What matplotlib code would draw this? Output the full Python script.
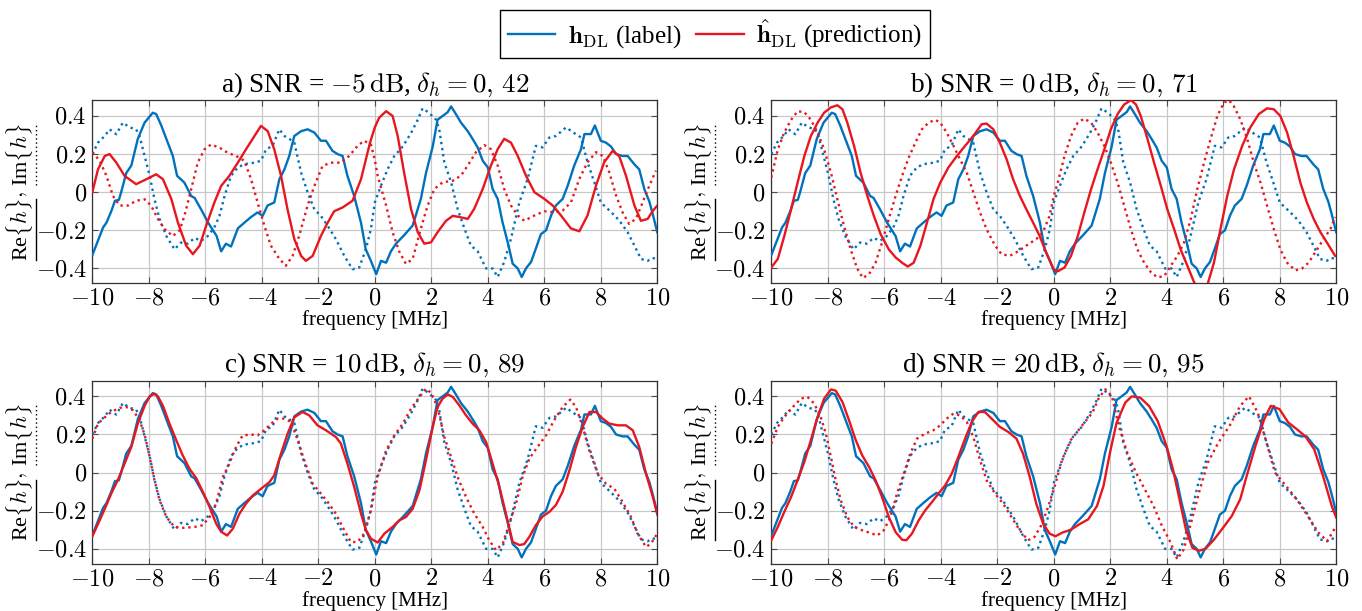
"""
Channel estimation example: label vs. DL prediction for four SNR values
Re{h} solid, Im{h} dotted
"""

import numpy as np
import matplotlib
matplotlib.use('Agg')
import matplotlib.pyplot as plt
from matplotlib.lines import Line2D

plt.rcParams['font.family'] = 'serif'
plt.rcParams['font.serif'] = ['Liberation Serif', 'DejaVu Serif']
plt.rcParams['mathtext.fontset'] = 'cm'
plt.rcParams['font.size'] = 15

BLUE = '#0072BD'
RED = '#E8161E'

# ---- data: (frequency [MHz], value) ----
label_re = [(-10, -0.33), (-9.62, -0.185), (-9.5, -0.16), (-9.33, -0.10), (-9.2, -0.045), (-9.06, -0.04),
            (-8.98, 0.0), (-8.8, 0.10), (-8.62, 0.14), (-8.39, 0.28), (-8.15, 0.365), (-7.86, 0.417),
            (-7.74, 0.41), (-7.56, 0.35), (-7.33, 0.26), (-7.15, 0.19), (-7.0, 0.086), (-6.74, 0.05),
            (-6.5, -0.02), (-6.38, -0.03), (-6.15, -0.09), (-5.9, -0.16), (-5.6, -0.23), (-5.44, -0.31),
            (-5.27, -0.27), (-5.09, -0.285), (-4.85, -0.19), (-4.62, -0.16), (-4.38, -0.13), (-4.15, -0.106),
            (-3.97, -0.124), (-3.8, -0.07), (-3.56, -0.054), (-3.38, 0.068), (-3.2, 0.12), (-3.03, 0.19),
            (-2.85, 0.295), (-2.61, 0.32), (-2.38, 0.33), (-2.14, 0.313), (-1.91, 0.27), (-1.73, 0.27),
            (-1.5, 0.217), (-1.32, 0.2), (-1.14, 0.19), (-0.97, 0.086), (-0.73, -0.02), (-0.49, -0.16),
            (-0.32, -0.30), (-0.14, -0.36), (0.05, -0.43), (0.22, -0.36), (0.4, -0.37), (0.57, -0.31),
            (0.75, -0.27), (1.04, -0.225), (1.34, -0.175), (1.63, -0.035), (1.81, 0.10), (2.05, 0.24),
            (2.22, 0.38), (2.4, 0.40), (2.58, 0.42), (2.7, 0.45), (2.87, 0.41), (3.05, 0.365), (3.29, 0.32),
            (3.46, 0.28), (3.64, 0.235), (3.82, 0.165), (4.0, 0.13), (4.17, 0.017), (4.35, -0.035),
            (4.52, -0.157), (4.7, -0.26), (4.88, -0.375), (5.06, -0.40), (5.2, -0.445), (5.35, -0.40),
            (5.53, -0.366), (5.7, -0.296), (5.88, -0.22), (6.06, -0.20), (6.24, -0.122), (6.41, -0.07),
            (6.65, -0.035), (6.83, 0.035), (7.06, 0.14), (7.3, 0.226), (7.42, 0.305), (7.65, 0.305),
            (7.79, 0.35), (8.0, 0.27), (8.18, 0.26), (8.36, 0.24), (8.54, 0.2), (8.77, 0.19), (8.95, 0.19),
            (9.19, 0.146), (9.36, 0.12), (9.54, 0.017), (9.72, -0.05), (9.83, -0.11), (10.0, -0.21)]

label_im = [(-10, 0.2), (-9.8, 0.26), (-9.56, 0.295), (-9.39, 0.33), (-9.15, 0.304), (-8.92, 0.365),
            (-8.68, 0.34), (-8.45, 0.33), (-8.33, 0.295), (-8.15, 0.19), (-7.97, 0.086), (-7.8, -0.037),
            (-7.62, -0.14), (-7.38, -0.23), (-7.09, -0.30), (-6.86, -0.264), (-6.62, -0.27), (-6.38, -0.24),
            (-6.15, -0.255), (-5.91, -0.23), (-5.68, -0.185), (-5.5, -0.124), (-5.32, -0.02), (-5.09, 0.086),
            (-4.85, 0.13), (-4.62, 0.147), (-4.26, 0.155), (-4.03, 0.165), (-3.85, 0.225), (-3.62, 0.243),
            (-3.38, 0.33), (-3.2, 0.295), (-3.03, 0.28), (-2.85, 0.26), (-2.61, 0.103), (-2.38, 0.0),
            (-2.14, -0.09), (-1.91, -0.124), (-1.67, -0.176), (-1.38, -0.246), (-1.08, -0.334), (-0.79, -0.404),
            (-0.55, -0.395), (-0.32, -0.30), (-0.14, -0.194), (0.0, -0.054), (0.22, 0.035), (0.45, 0.12),
            (0.69, 0.19), (0.99, 0.24), (1.28, 0.31), (1.52, 0.38), (1.69, 0.44), (1.93, 0.415), (2.17, 0.38),
            (2.28, 0.33), (2.46, 0.157), (2.7, 0.052), (2.93, -0.087), (3.17, -0.19), (3.4, -0.28),
            (3.64, -0.31), (3.94, -0.40), (4.17, -0.40), (4.35, -0.445), (4.58, -0.366), (4.82, -0.244),
            (5.12, -0.052), (5.41, 0.07), (5.7, 0.243), (5.94, 0.235), (6.18, 0.287), (6.41, 0.295),
            (6.77, 0.34), (7.06, 0.31), (7.3, 0.287), (7.53, 0.157), (7.77, 0.052), (8.0, -0.054),
            (8.24, -0.087), (8.54, -0.13), (8.71, -0.16), (8.95, -0.21), (9.19, -0.28), (9.42, -0.35),
            (9.66, -0.36), (9.82, -0.345), (10.0, -0.35)]

pred_a_re = [(-10, 0.0), (-9.8, 0.12), (-9.56, 0.19), (-9.39, 0.2), (-9.15, 0.155), (-8.86, 0.086),
             (-8.45, 0.042), (-8.09, 0.068), (-7.74, 0.094), (-7.5, 0.068), (-7.2, -0.037), (-6.97, -0.16),
             (-6.68, -0.28), (-6.44, -0.325), (-6.2, -0.28), (-5.97, -0.176), (-5.68, -0.054), (-5.44, 0.033),
             (-5.15, 0.086), (-4.85, 0.155), (-4.56, 0.225), (-4.26, 0.295), (-4.03, 0.348), (-3.79, 0.32),
             (-3.56, 0.225), (-3.32, 0.086), (-3.09, -0.09), (-2.85, -0.246), (-2.61, -0.334), (-2.44, -0.36),
             (-2.2, -0.334), (-1.91, -0.23), (-1.67, -0.16), (-1.44, -0.1), (-1.14, -0.08), (-0.79, -0.045),
             (-0.49, 0.068), (-0.17, 0.26), (0.0, 0.34), (0.15, 0.39), (0.4, 0.425), (0.63, 0.4), (0.81, 0.295),
             (1.04, 0.1), (1.28, -0.087), (1.52, -0.21), (1.75, -0.27), (1.99, -0.263), (2.22, -0.21),
             (2.52, -0.15), (2.76, -0.124), (2.99, -0.13), (3.29, -0.14), (3.52, -0.087), (3.82, 0.017),
             (4.11, 0.14), (4.35, 0.226), (4.58, 0.28), (4.82, 0.26), (5.06, 0.19), (5.35, 0.087), (5.65, 0.0),
             (6.0, -0.035), (6.3, -0.07), (6.59, -0.122), (6.94, -0.19), (7.24, -0.205), (7.53, -0.122),
             (7.83, 0.035), (8.12, 0.157), (8.42, 0.217), (8.65, 0.19), (8.89, 0.087), (9.19, -0.07),
             (9.42, -0.15), (9.66, -0.14), (9.83, -0.1), (10.0, -0.07)]

pred_a_im = [(-10, 0.21), (-9.74, 0.165), (-9.5, 0.086), (-9.27, -0.02), (-9.03, -0.07), (-8.74, -0.07),
             (-8.45, -0.045), (-8.15, -0.037), (-7.92, -0.07), (-7.68, -0.14), (-7.44, -0.194), (-7.15, -0.23),
             (-6.91, -0.2), (-6.74, -0.124), (-6.5, 0.016), (-6.27, 0.155), (-6.03, 0.225), (-5.8, 0.25),
             (-5.5, 0.234), (-5.21, 0.207), (-4.91, 0.19), (-4.62, 0.165), (-4.38, 0.068), (-4.15, -0.054),
             (-3.91, -0.176), (-3.68, -0.28), (-3.38, -0.35), (-3.15, -0.386), (-2.91, -0.334), (-2.68, -0.23),
             (-2.38, -0.07), (-2.14, 0.033), (-1.85, 0.138), (-1.56, 0.155), (-1.2, 0.155), (-0.91, 0.19),
             (-0.61, 0.243), (-0.38, 0.27), (-0.14, 0.25), (0.0, 0.17), (0.1, 0.087), (0.4, -0.07),
             (0.63, -0.21), (0.87, -0.313), (1.1, -0.376), (1.34, -0.35), (1.63, -0.19), (1.87, -0.07),
             (2.11, 0.017), (2.4, 0.052), (2.76, 0.06), (3.05, 0.087), (3.29, 0.14), (3.58, 0.21), (3.88, 0.247),
             (4.11, 0.226), (4.35, 0.14), (4.58, 0.017), (4.82, -0.07), (5.06, -0.122), (5.29, -0.15),
             (5.65, -0.122), (6.0, -0.1), (6.35, -0.105), (6.65, -0.096), (6.94, -0.054), (7.24, 0.07),
             (7.53, 0.157), (7.83, 0.21), (8.07, 0.19), (8.3, 0.104), (8.54, -0.017), (8.77, -0.105),
             (9.0, -0.166), (9.24, -0.14), (9.48, -0.054), (9.72, 0.035), (9.95, 0.113)]

pred_b_re = [(-10, -0.395), (-9.77, -0.35), (-9.54, -0.23), (-9.3, -0.09), (-9.07, 0.05), (-8.83, 0.19),
             (-8.6, 0.295), (-8.36, 0.365), (-8.13, 0.417), (-7.89, 0.445), (-7.66, 0.456), (-7.48, 0.435),
             (-7.31, 0.365), (-7.07, 0.243), (-6.84, 0.103), (-6.6, -0.02), (-6.37, -0.124), (-6.13, -0.22),
             (-5.84, -0.3), (-5.6, -0.342), (-5.37, -0.37), (-5.17, -0.39), (-4.96, -0.37), (-4.72, -0.28),
             (-4.49, -0.16), (-4.26, -0.037), (-4.02, 0.05), (-3.73, 0.13), (-3.43, 0.19), (-3.14, 0.243),
             (-2.85, 0.295), (-2.55, 0.357), (-2.38, 0.36), (-2.14, 0.33), (-1.91, 0.26), (-1.67, 0.173),
             (-1.44, 0.068), (-1.2, -0.02), (-0.97, -0.09), (-0.73, -0.16), (-0.5, -0.23), (-0.27, -0.316),
             (0.0, -0.405), (0.14, -0.415), (0.38, -0.395), (0.61, -0.334), (0.85, -0.23), (1.08, -0.107),
             (1.32, 0.016), (1.55, 0.12), (1.79, 0.225), (2.02, 0.33), (2.26, 0.41), (2.49, 0.46), (2.73, 0.483),
             (2.91, 0.46), (3.08, 0.4), (3.32, 0.278), (3.55, 0.155), (3.79, 0.033), (4.02, -0.09),
             (4.26, -0.194), (4.49, -0.3), (4.73, -0.386), (4.96, -0.47), (5.2, -0.53), (5.45, -0.48),
             (5.67, -0.37), (5.9, -0.194), (6.14, -0.02), (6.38, 0.12), (6.67, 0.243), (6.96, 0.34),
             (7.26, 0.41), (7.55, 0.44), (7.79, 0.435), (8.02, 0.4), (8.26, 0.313), (8.49, 0.19), (8.73, 0.05),
             (8.96, -0.054), (9.2, -0.14), (9.44, -0.21), (9.67, -0.264), (9.96, -0.334)]

pred_b_im = [(-10, 0.077), (-9.77, 0.225), (-9.54, 0.313), (-9.3, 0.38), (-9.07, 0.425), (-8.83, 0.42),
             (-8.6, 0.38), (-8.36, 0.313), (-8.13, 0.225), (-7.89, 0.103), (-7.66, -0.037), (-7.43, -0.176),
             (-7.19, -0.3), (-6.96, -0.4), (-6.76, -0.45), (-6.54, -0.43), (-6.31, -0.37), (-6.08, -0.264),
             (-5.84, -0.14), (-5.6, -0.02), (-5.37, 0.086), (-5.14, 0.18), (-4.9, 0.26), (-4.67, 0.33),
             (-4.43, 0.365), (-4.2, 0.38), (-4.02, 0.365), (-3.79, 0.313), (-3.55, 0.243), (-3.32, 0.173),
             (-3.08, 0.103), (-2.85, 0.0), (-2.61, -0.107), (-2.38, -0.194), (-2.08, -0.28), (-1.85, -0.325),
             (-1.56, -0.334), (-1.26, -0.31), (-0.97, -0.28), (-0.62, -0.246), (-0.38, -0.21), (-0.15, -0.124),
             (0.0, -0.02), (0.14, 0.05), (0.38, 0.19), (0.61, 0.295), (0.85, 0.365), (1.08, 0.386), (1.32, 0.365),
             (1.55, 0.313), (1.79, 0.243), (2.02, 0.155), (2.26, 0.05), (2.49, -0.07), (2.73, -0.194),
             (2.96, -0.3), (3.2, -0.37), (3.44, -0.42), (3.67, -0.447), (3.91, -0.44), (4.14, -0.386),
             (4.38, -0.334), (4.61, -0.264), (4.85, -0.14), (5.08, 0.016), (5.32, 0.155), (5.55, 0.278),
             (5.79, 0.4), (6.02, 0.47), (6.2, 0.483), (6.38, 0.45), (6.61, 0.38), (6.85, 0.278), (7.08, 0.155),
             (7.32, 0.05), (7.55, -0.07), (7.79, -0.194), (8.02, -0.3), (8.26, -0.37), (8.55, -0.41),
             (8.79, -0.4), (9.02, -0.37), (9.32, -0.3), (9.55, -0.246), (9.79, -0.194), (9.96, -0.13)]

pred_c_re = [(-10, -0.334), (-9.8, -0.27), (-9.56, -0.19), (-9.33, -0.11), (-9.1, -0.04), (-8.86, 0.047),
             (-8.62, 0.135), (-8.39, 0.257), (-8.15, 0.35), (-7.97, 0.4), (-7.82, 0.413), (-7.68, 0.4),
             (-7.5, 0.35), (-7.27, 0.257), (-7.03, 0.17), (-6.8, 0.09), (-6.56, 0.02), (-6.32, -0.03),
             (-6.09, -0.1), (-5.85, -0.18), (-5.62, -0.267), (-5.44, -0.31), (-5.23, -0.33), (-5.03, -0.295),
             (-4.79, -0.215), (-4.56, -0.163), (-4.32, -0.12), (-4.03, -0.085), (-3.73, -0.05), (-3.56, -0.014),
             (-3.32, 0.1), (-3.09, 0.203), (-2.85, 0.29), (-2.56, 0.318), (-2.32, 0.3), (-2.03, 0.248),
             (-1.73, 0.222), (-1.38, 0.187), (-1.2, 0.152), (-0.97, 0.047), (-0.73, -0.075), (-0.49, -0.215),
             (-0.32, -0.3), (-0.14, -0.346), (0.1, -0.367), (0.34, -0.32), (0.63, -0.285), (0.87, -0.25),
             (1.1, -0.233), (1.34, -0.19), (1.58, -0.093), (1.81, 0.065), (2.05, 0.24), (2.22, 0.344),
             (2.4, 0.388), (2.58, 0.41), (2.76, 0.397), (2.99, 0.353), (3.23, 0.3), (3.46, 0.257), (3.7, 0.222),
             (3.94, 0.16), (4.17, 0.047), (4.41, -0.075), (4.64, -0.215), (4.88, -0.364), (5.12, -0.38),
             (5.29, -0.375), (5.47, -0.337), (5.7, -0.276), (5.94, -0.23), (6.18, -0.206), (6.41, -0.17),
             (6.65, -0.1), (6.89, 0.012), (7.12, 0.135), (7.36, 0.24), (7.6, 0.318), (7.83, 0.318),
             (8.07, 0.283), (8.3, 0.257), (8.6, 0.248), (8.89, 0.248), (9.13, 0.222), (9.36, 0.135),
             (9.6, -0.005), (9.84, -0.127), (10.0, -0.22)]

pred_c_im = [(-10, 0.178), (-9.8, 0.257), (-9.56, 0.29), (-9.33, 0.318), (-9.03, 0.34), (-8.8, 0.344),
             (-8.56, 0.327), (-8.33, 0.275), (-8.15, 0.2), (-7.97, 0.082), (-7.8, -0.04), (-7.62, -0.145),
             (-7.38, -0.233), (-7.09, -0.285), (-6.74, -0.29), (-6.38, -0.285), (-6.09, -0.276), (-5.85, -0.233),
             (-5.62, -0.163), (-5.38, -0.023), (-5.15, 0.047), (-4.91, 0.135), (-4.68, 0.195), (-4.38, 0.2),
             (-4.15, 0.195), (-3.91, 0.222), (-3.67, 0.257), (-3.44, 0.283), (-3.2, 0.283), (-2.97, 0.266),
             (-2.73, 0.17), (-2.5, 0.065), (-2.2, -0.058), (-1.91, -0.11), (-1.67, -0.154), (-1.38, -0.215),
             (-1.08, -0.303), (-0.85, -0.364), (-0.61, -0.364), (-0.38, -0.32), (-0.14, -0.198), (0.1, -0.023),
             (0.4, 0.117), (0.69, 0.195), (0.99, 0.257), (1.28, 0.335), (1.58, 0.397), (1.81, 0.44),
             (1.99, 0.418), (2.22, 0.344), (2.46, 0.187), (2.7, 0.082), (2.93, -0.023), (3.23, -0.128),
             (3.52, -0.215), (3.82, -0.285), (4.05, -0.355), (4.29, -0.407), (4.53, -0.372), (4.76, -0.267),
             (5.0, -0.163), (5.23, -0.023), (5.47, 0.073), (5.76, 0.135), (6.06, 0.195), (6.35, 0.275),
             (6.65, 0.344), (6.92, 0.383), (7.12, 0.344), (7.36, 0.24), (7.59, 0.117), (7.89, -0.005),
             (8.18, -0.058), (8.48, -0.085), (8.77, -0.154), (9.07, -0.233), (9.3, -0.32), (9.6, -0.39),
             (9.78, -0.372), (10.0, -0.32)]

pred_d_re = [(-10, -0.355), (-9.77, -0.285), (-9.54, -0.206), (-9.3, -0.128), (-9.07, -0.04), (-8.83, 0.056),
             (-8.6, 0.17), (-8.36, 0.292), (-8.13, 0.388), (-7.89, 0.436), (-7.72, 0.43), (-7.48, 0.37),
             (-7.25, 0.275), (-7.01, 0.17), (-6.78, 0.09), (-6.54, 0.03), (-6.31, -0.04), (-6.08, -0.128),
             (-5.84, -0.233), (-5.6, -0.312), (-5.37, -0.352), (-5.22, -0.355), (-5.02, -0.32), (-4.78, -0.25),
             (-4.55, -0.198), (-4.31, -0.154), (-4.08, -0.11), (-3.84, -0.066), (-3.61, -0.005), (-3.38, 0.082),
             (-3.14, 0.178), (-2.9, 0.266), (-2.67, 0.318), (-2.44, 0.318), (-2.2, 0.283), (-1.91, 0.24),
             (-1.61, 0.213), (-1.32, 0.178), (-1.09, 0.1), (-0.85, -0.023), (-0.62, -0.163), (-0.38, -0.267),
             (-0.15, -0.32), (0.06, -0.334), (0.3, -0.315), (0.6, -0.3), (0.92, -0.27), (1.22, -0.245),
             (1.53, -0.175), (1.76, -0.07), (1.99, 0.105), (2.22, 0.26), (2.53, 0.367), (2.76, 0.4),
             (3.06, 0.393), (3.37, 0.35), (3.68, 0.27), (3.99, 0.14), (4.22, 0.017), (4.45, -0.14),
             (4.68, -0.3), (4.91, -0.395), (5.14, -0.41), (5.37, -0.4), (5.68, -0.35), (5.99, -0.29),
             (6.3, -0.228), (6.6, -0.14), (6.83, -0.017), (7.14, 0.14), (7.45, 0.28), (7.68, 0.35),
             (7.99, 0.333), (8.3, 0.263), (8.6, 0.228), (8.91, 0.19), (9.22, 0.122), (9.53, -0.017),
             (9.84, -0.175), (10.0, -0.236)]

pred_d_im = [(-10, 0.152), (-9.77, 0.24), (-9.54, 0.292), (-9.24, 0.344), (-8.95, 0.388), (-8.72, 0.397),
             (-8.48, 0.362), (-8.25, 0.292), (-8.07, 0.205), (-7.89, 0.082), (-7.72, -0.04), (-7.54, -0.145),
             (-7.31, -0.233), (-7.07, -0.285), (-6.78, -0.303), (-6.49, -0.317), (-6.25, -0.33), (-6.02, -0.303),
             (-5.78, -0.233), (-5.55, -0.11), (-5.31, -0.005), (-5.08, 0.1), (-4.84, 0.178), (-4.55, 0.205),
             (-4.26, 0.222), (-4.02, 0.248), (-3.79, 0.283), (-3.55, 0.31), (-3.32, 0.3), (-3.08, 0.266),
             (-2.85, 0.187), (-2.61, 0.065), (-2.38, -0.04), (-2.08, -0.11), (-1.79, -0.163), (-1.5, -0.233),
             (-1.2, -0.303), (-0.91, -0.355), (-0.68, -0.337), (-0.44, -0.276), (-0.2, -0.18), (0.06, -0.058),
             (0.3, 0.07), (0.6, 0.17), (0.99, 0.245), (1.37, 0.315), (1.6, 0.393), (1.83, 0.437), (2.06, 0.4),
             (2.3, 0.245), (2.6, 0.105), (2.91, 0.0), (3.22, -0.087), (3.53, -0.175), (3.83, -0.28),
             (4.14, -0.368), (4.37, -0.455), (4.6, -0.403), (4.83, -0.28), (5.14, -0.105), (5.45, 0.052),
             (5.83, 0.158), (6.22, 0.245), (6.6, 0.35), (6.91, 0.4), (7.22, 0.315), (7.53, 0.158), (7.83, 0.0),
             (8.22, -0.07), (8.6, -0.14), (8.99, -0.228), (9.37, -0.315), (9.68, -0.36), (10.0, -0.28)]

titles = [r'a) SNR = $-5\,\mathrm{dB}$, $\delta_h = 0,\,42$',
          r'b) SNR = $0\,\mathrm{dB}$, $\delta_h = 0,\,71$',
          r'c) SNR = $10\,\mathrm{dB}$, $\delta_h = 0,\,89$',
          r'd) SNR = $20\,\mathrm{dB}$, $\delta_h = 0,\,95$']
predictions = [(pred_a_re, pred_a_im), (pred_b_re, pred_b_im),
               (pred_c_re, pred_c_im), (pred_d_re, pred_d_im)]

xticks = [-10, -8, -6, -4, -2, 0, 2, 4, 6, 8, 10]
yticks = [-0.4, -0.2, 0, 0.2, 0.4]
ytick_labels = ['$-0.4$', '$-0.2$', '$0$', '$0.2$', '$0.4$']


def xy(pairs):
    arr = np.array(pairs, dtype=float)
    return arr[:, 0], arr[:, 1]


def add_underlined_ylabel(fig, ax, renderer, size=16):
    """Rotated 'Re{h}, Im{h}' with solid / dotted underline"""
    W, H = fig.bbox.width, fig.bbox.height
    bb = ax.get_window_extent(renderer)
    xc = bb.x0 - 73  # pixels left of the axes
    parts = [r'Re$\{h\}$', r'$,$', r'Im$\{h\}$']
    gaps = [0, 0, 6]
    texts = [fig.text(0, 0, p, rotation=90, ha='center', va='bottom', fontsize=size) for p in parts]
    sizes = [t.get_window_extent(renderer).height for t in texts]
    total = sum(sizes) + sum(gaps)
    y = (bb.y0 + bb.y1) / 2 - total / 2
    for t, s, g, p in zip(texts, sizes, gaps, parts):
        y += g
        t.set_position((xc / W, y / H))
        if p != r'$,$':
            ext = t.get_window_extent(renderer)
            ux = ext.x1 + 1.0
            ls = '-' if p.startswith('Re') else (0, (1, 2))
            fig.add_artist(Line2D([ux / W, ux / W], [(y + 1) / H, (y + s - 1) / H],
                                  transform=fig.transFigure, color='black', lw=1.0, linestyle=ls))
        y += s


fig = plt.figure(figsize=(13.62, 6.11), dpi=100)
positions = [(0.0678, 0.5363, 0.4148, 0.2995), (0.5663, 0.5363, 0.4148, 0.2995),
             (0.0678, 0.0774, 0.4148, 0.2995), (0.5663, 0.0774, 0.4148, 0.2995)]

lre_x, lre_y = xy(label_re)
lim_x, lim_y = xy(label_im)
axes = []
for pos, title, (p_re, p_im) in zip(positions, titles, predictions):
    ax = fig.add_axes(pos)
    axes.append(ax)
    pre_x, pre_y = xy(p_re)
    pim_x, pim_y = xy(p_im)
    ax.plot(lre_x, lre_y, color=BLUE, lw=1.7, zorder=3)
    ax.plot(lim_x, lim_y, color=BLUE, lw=1.7, linestyle=(0, (1, 1.6)), zorder=3)
    ax.plot(pre_x, pre_y, color=RED, lw=1.7, zorder=4)
    ax.plot(pim_x, pim_y, color=RED, lw=1.7, linestyle=(0, (1, 1.6)), zorder=4)

    ax.set_xlim(-10, 10)
    ax.set_ylim(-0.478, 0.482)
    ax.set_xticks(xticks)
    ax.set_xticklabels(['$%d$' % v for v in xticks])
    ax.set_yticks(yticks)
    ax.set_yticklabels(ytick_labels)
    ax.tick_params(direction='in', top=True, right=True, length=4, width=0.8,
                   color='0.3', pad=4, labelsize=17.5)
    ax.grid(True, color='#c8c8c8', lw=0.9)
    ax.set_axisbelow(True)
    for s in ax.spines.values():
        s.set_linewidth(0.9)
        s.set_color('0.2')
    ax.set_title(title, fontsize=19.5, pad=6)
    ax.set_xlabel('frequency [MHz]', fontsize=15, labelpad=0.5)

fig.canvas.draw()
renderer = fig.canvas.get_renderer()
for ax in axes:
    add_underlined_ylabel(fig, ax, renderer)

handles = [Line2D([], [], color=BLUE, lw=1.7), Line2D([], [], color=RED, lw=1.7)]
labels = [r'$\mathbf{h}_{\mathrm{DL}}$ (label)', r'$\hat{\mathbf{h}}_{\mathrm{DL}}$ (prediction)']
leg = fig.legend(handles, labels, loc='upper center', bbox_to_anchor=(0.525, 0.984), ncol=2,
                 frameon=True, fancybox=False, edgecolor='black', framealpha=1, borderaxespad=0,
                 handlelength=1.9, handletextpad=0.5, columnspacing=0.6, borderpad=0.3, fontsize=18)
leg.get_frame().set_linewidth(1.0)

fig.savefig('out.png', dpi=100)
